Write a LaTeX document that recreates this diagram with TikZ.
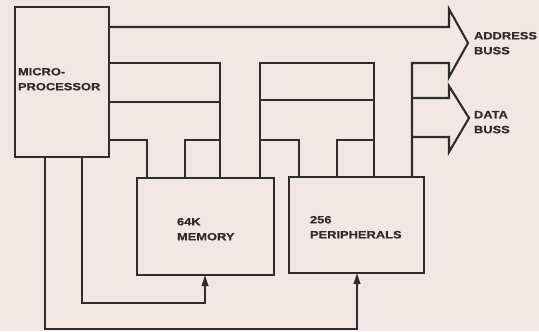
\documentclass[tikz,border=0pt]{standalone}
\usepackage{fontspec}
\newfontfamily\labfont[FakeStretch=1.22,FakeBold=0.6]{Liberation Sans Bold}
\usetikzlibrary{arrows.meta}
\definecolor{paper}{RGB}{242,231,228}
\definecolor{ink}{RGB}{48,44,44}
\begin{document}
\begin{tikzpicture}[x=1bp,y=-1bp,
  wire/.style={draw=ink,line width=2.1bp,line join=miter,line cap=butt},
  box/.style={draw=ink,line width=2.1bp,fill=paper,rectangle,inner sep=0pt,outer sep=0pt},
  lab/.style={anchor=north west,inner sep=0pt,outer sep=0pt,align=left,text=ink,font=\labfont\fontsize{10.6}{15}\selectfont},
  feed/.style={wire,-{Triangle[length=11bp,width=6.5bp]}}]
\fill[paper] (0,0) rectangle (539,331);
\useasboundingbox (0,0) rectangle (539,331);
% boxes
\node[box,minimum width=94bp,minimum height=150bp] (mpu) at (62,82) {};
\node[box,minimum width=137bp,minimum height=97bp] (mem) at (205.5,226.5) {};
\node[box,minimum width=135bp,minimum height=96bp] (per) at (356.5,225) {};
% junction coordinates
\coordinate (m1) at (220,102);
\coordinate (m2) at (220,140);
\coordinate (p1) at (374,100);
\coordinate (p2) at (374,140);
\coordinate (q1) at (260,140);
\coordinate (d1) at (412,98);
\coordinate (d2) at (412,137);
% memory bus from microprocessor
\draw[wire] (mpu.east |- 0,63) -| (mem.north -| 220,0);
\draw[wire] (mpu.east |- 0,102) -- (m1);
\draw[wire] (mpu.east |- 0,140) -| (mem.north -| 147,0);
\draw[wire] (mem.north -| 185,0) |- (m2);
% memory to peripherals
\draw[wire] (mem.north -| 260,0) -- (260,63) -- (374,63) -- (per.north -| 374,0);
\draw[wire] (260,100) -- (p1);
\draw[wire] (per.north -| 299,0) |- (q1);
\draw[wire] (per.north -| 337,0) |- (p2);
% address buss
\draw[wire] (mpu.east |- 0,27) -- (449,27) -- (449,9) -- (468,43) -- (449,77) -- (449,63) -- (412,63) -- (per.north -| 412,0);
% data buss
\draw[wire] (d1) -- (449,98) -- (449,86) -- (469,118) -- (449,152) -- (449,137) -- (d2);
% feeds from below
\draw[feed] (mpu.south -| 82,0) |- (205,303) -- (mem.south -| 205,0);
\draw[feed] (mpu.south -| 45,0) |- (357,329) -- (per.south -| 357,0);
% labels
\node[lab] (tmpu) at (18,68) {MICRO-\\PROCESSOR};
\node[lab] (tadr) at (474,32) {ADDRESS\\BUSS};
\node[lab] (tdat) at (474,111) {DATA\\BUSS};
\node[lab] (tmem) at (177,218) {64K\\MEMORY};
\node[lab] (tper) at (310,216) {256\\PERIPHERALS};
\end{tikzpicture}
\end{document}
